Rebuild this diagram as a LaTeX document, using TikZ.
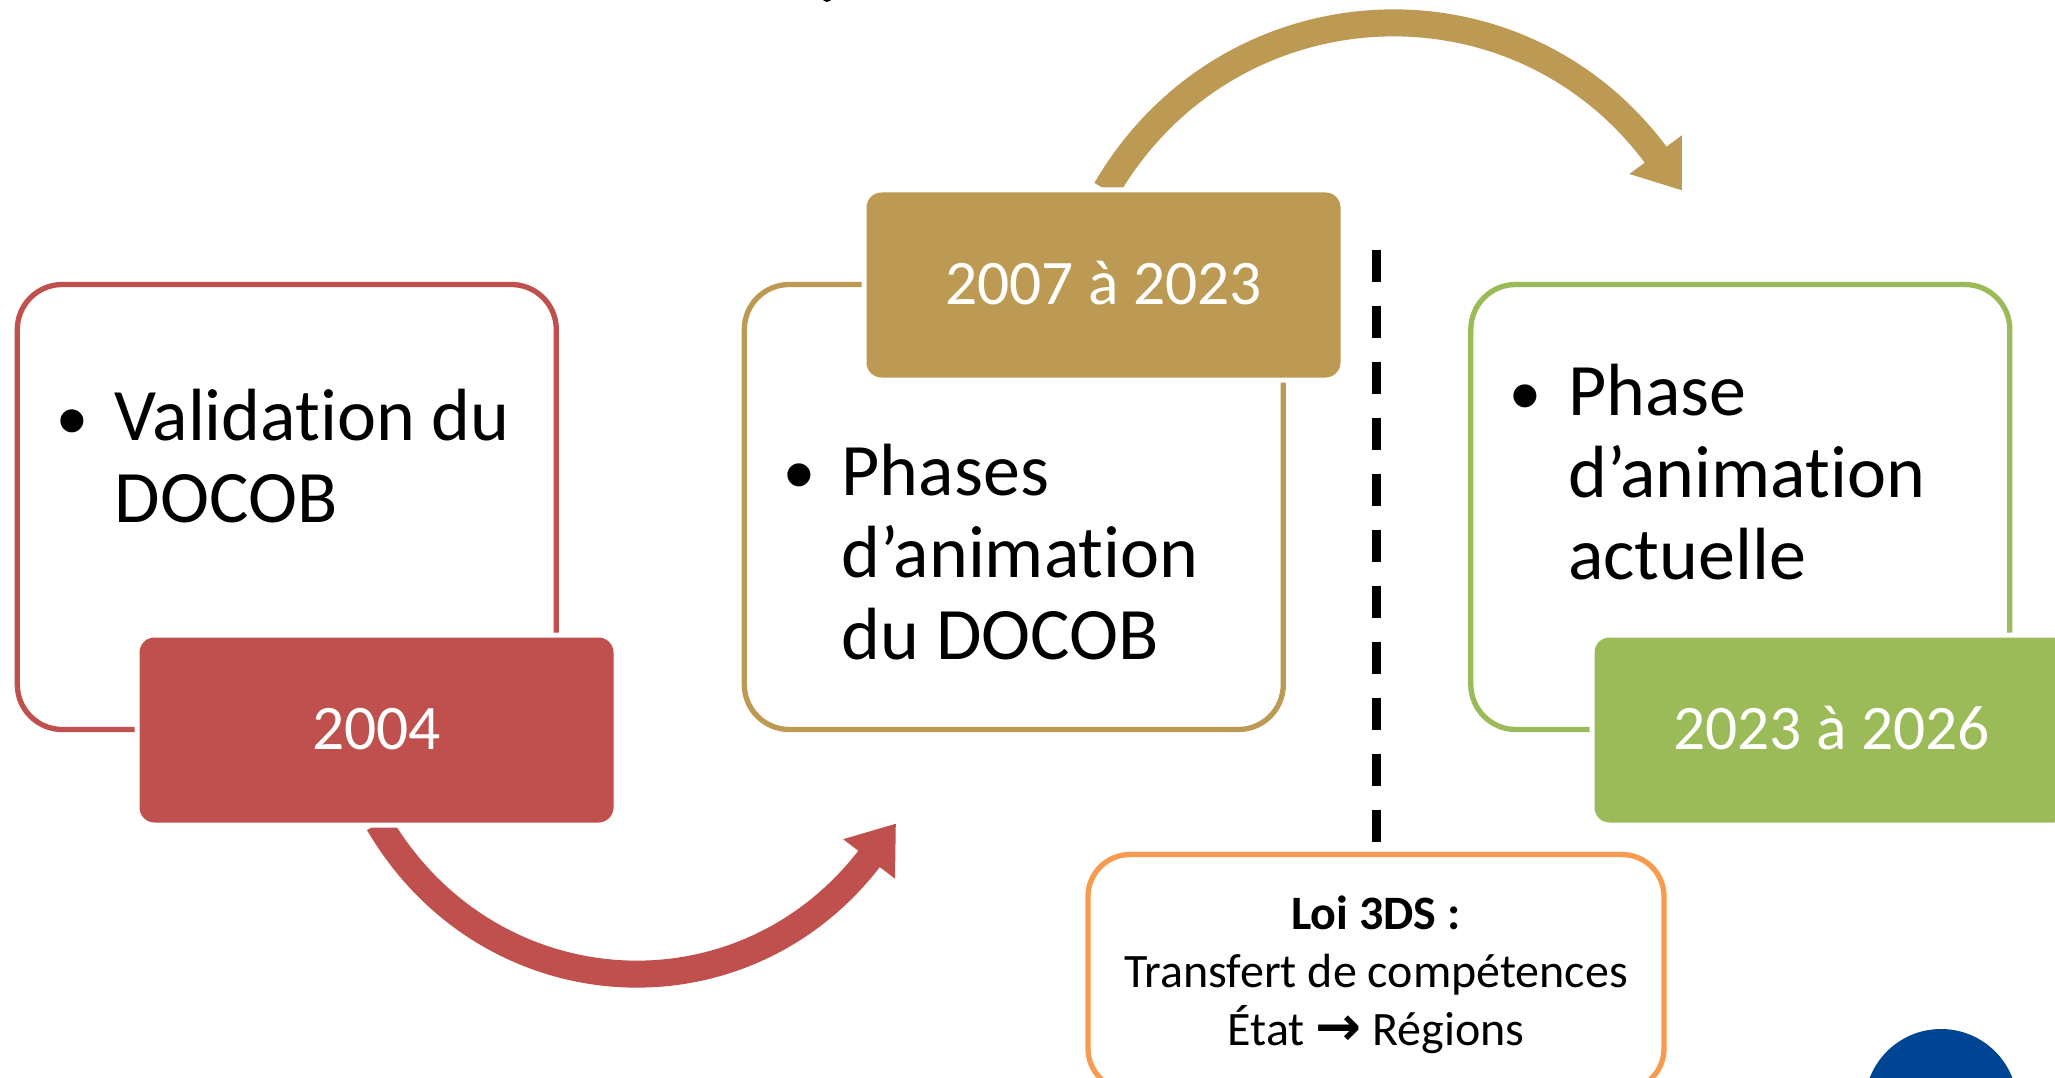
\documentclass[tikz,border=0pt]{standalone}
\usepackage{fontspec}
\setmainfont[Ligatures=NoCommon]{Carlito}
\newfontfamily\symfont{DejaVu Sans Bold}
\newfontfamily\bulfont{Liberation Sans}
\usetikzlibrary{arrows.meta,calc}
\definecolor{cred}{HTML}{C0504D}
\definecolor{cgold}{HTML}{BC9A53}
\definecolor{cgreen}{HTML}{9BBB59}
\definecolor{corange}{HTML}{F99B4E}
\definecolor{cblue}{HTML}{004494}
\pgfdeclarelayer{back}
\pgfsetlayers{back,main}
\tikzset{
  outlinebox/.style={draw=#1,fill=white,line width=5.3pt,rounded corners=45pt,minimum width=539pt,minimum height=445pt,inner sep=0pt},
  datebox/.style={fill=#1,preaction={draw=white,line width=10pt},rounded corners=15pt,minimum width=474pt,minimum height=185pt,inner sep=0pt,text=white,font=\fontsize{63.5}{70}\selectfont,text height=40pt,text depth=2pt},
  bodytext/.style={font=\fontsize{74}{82}\selectfont,align=left,anchor=north west,inner sep=0pt,text=black},
  bulletmark/.style={font=\bulfont\fontsize{85}{90}\selectfont,anchor=base,inner sep=0pt,text=black},
  curvearrow/.style={draw=#1,line width=27pt,-{Triangle[length=44.5pt,width=62pt,fill=#1]}},
  notebox/.style={draw=corange,fill=white,line width=5.3pt,rounded corners=42pt,minimum width=576pt,minimum height=236pt,inner sep=0pt},
  notetext/.style={font=\fontsize{48}{58}\selectfont,align=center,inner sep=0pt,text=black},
  phaseline/.style={draw=black,line width=8.6pt,dash pattern=on 32pt off 24pt},
}
\begin{document}
\begin{tikzpicture}[x=1pt,y=-1pt]
\useasboundingbox (0,0) rectangle (2055,1078);
\clip (0,0) rectangle (2055,1078);
% free ends
\coordinate (redtip) at (896,823.5);
\coordinate (goldtip) at (1682,190.5);
\coordinate (dashtop) at (1376.5,250);
\coordinate (dashend) at (1376.5,842);
% date boxes
\node[datebox=cred]   (reddate)   at (376.5,730) {2004};
\node[datebox=cgold]  (golddate)  at (1103.5,285) {2007 à 2023};
\node[datebox=cgreen] (greendate) at (1831.5,730) {2023 à 2026};
% below the date boxes, whose white edge trims them
\begin{pgfonlayer}{back}
\fill[white] (0,0) rectangle (2055,1078);
\node[outlinebox=cred]   (redout)   at (286.8,507) {};
\node[outlinebox=cgold]  (goldout)  at (1013.8,507) {};
\node[outlinebox=cgreen] (greenout) at (1740.3,507) {};
\draw[curvearrow=cred] ($(reddate.south)+(2.1,0.5)$) .. controls (488,1010) and (742,1026) .. (redtip);
\draw[curvearrow=cgold] ($(golddate.north)+(2.5,-2.5)$) .. controls (1227,-18) and (1516,-35) .. (goldtip);
\end{pgfonlayer}
% body text
\node[bulletmark] (redbul) at (72,449) {•};
\node[bodytext] (redtext) at (114.5,389) {Validation du\\DOCOB};
\node[bulletmark] (goldbul) at (799,503) {•};
\node[bodytext] (goldtext) at (841.5,444) {Phases\\d’animation\\du DOCOB};
\node[bulletmark] (greenbul) at (1525,424) {•};
\node[bodytext] (greentext) at (1568,364) {Phase\\d’animation\\actuelle};
% dashed separator
\draw[phaseline] (dashtop) -- (dashend);
% note
\node[notebox] (note) at (1376,972.5) {};
\node[notetext] (notelabel) at (1376,974.5) {\textbf{Loi 3DS :}\\Transfert de compétences\\État {\symfont\fontsize{55}{58}\selectfont →} Régions};
% cropped elements at the edges
\node[circle,fill=cblue,minimum size=153pt,inner sep=0pt] (logo) at (1941,1105.5) {};
\node[circle,fill=black,minimum size=10pt,inner sep=0pt] (cropped) at (827,-3) {};
\end{tikzpicture}
\end{document}
